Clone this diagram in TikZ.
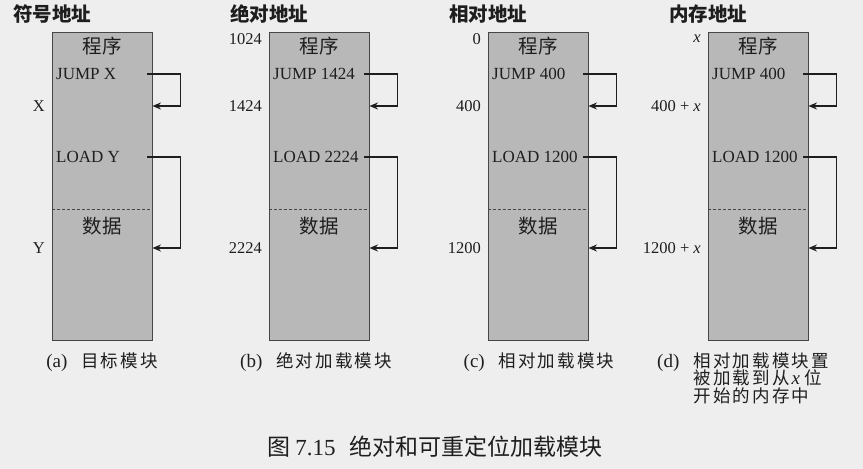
\documentclass[tikz,border=0pt]{standalone}
\usepackage{fontspec}
\setmainfont{Liberation Serif}
\newfontfamily\cjk{Noto Sans CJK SC}
\newfontfamily\cjkcap[LetterSpace=12]{Noto Sans CJK SC}
\newcommand\capcjk[1]{{\cjkcap\fontsize{17.5}{18}\selectfont #1}}
\usetikzlibrary{arrows.meta}
\definecolor{bgcol}{RGB}{238,238,238}
\definecolor{boxgray}{RGB}{184,184,184}
\definecolor{edgegray}{RGB}{70,70,70}
\definecolor{inkcol}{RGB}{30,30,30}
\tikzset{
  boxnode/.style={draw=edgegray, line width=0.9pt, fill=boxgray, minimum width=100pt, minimum height=308pt, inner sep=0pt},
  ttl/.style={inner sep=0pt, anchor=west, text=inkcol, font=\cjk\bfseries\fontsize{19.5}{22}\selectfont},
  inbox/.style={inner sep=0pt, text=inkcol, font=\cjk\fontsize{19.5}{22}\selectfont},
  instr/.style={inner sep=0pt, anchor=west, text=inkcol, font=\fontsize{17}{20}\selectfont},
  addr/.style={inner sep=0pt, anchor=east, text=inkcol, font=\fontsize{16.5}{20}\selectfont},
  capt/.style={inner sep=0pt, text=inkcol, font=\fontsize{19}{20}\selectfont},
  arr/.style={draw=inkcol, line width=1.6pt, -{Stealth[length=8.5pt,width=7pt]}},
  divider/.style={draw=edgegray, line width=0.9pt, dash pattern=on 3pt off 2pt}
}
% #1 name, #2 left x, #3 title, #4 top label, #5 jump text, #6 load text, #7 jump addr, #8 load addr
\newcommand\mypanel[8]{%
  \node[boxnode] (#1box) at (#2+50,186) {};
  \node[ttl] (#1ttl) at (#2-39,14) {#3};
  \node[inbox] (#1prog) at (#2+50,46) {程序};
  \node[instr] (#1jump) at (#2+4,74) {#5};
  \node[instr] (#1load) at (#2+4,157) {#6};
  \draw[divider] (#1box.west |- 0,209) -- (#1box.east |- 0,209);
  \node[inbox] (#1data) at (#2+50,226) {数据};
  \node[addr] (#1a0) at (#2-7,39) {#4};
  \node[addr] (#1a1) at (#2-7,106) {#7};
  \node[addr] (#1a2) at (#2-7,248) {#8};
  \coordinate (#1s) at ([xshift=-5pt]#1box.east);
  \coordinate (#1c) at ([xshift=28pt]#1box.east);
  \draw[arr] (#1s |- #1jump) -| (#1c |- #1a1) -- (#1box.east |- #1a1);
  \draw[arr] (#1s |- #1load) -| (#1c |- #1a2) -- (#1box.east |- #1a2);
}
\begin{document}
\begin{tikzpicture}[x=1pt,y=-1pt]
  \fill[bgcol] (0,0) rectangle (863,469);
  \useasboundingbox (0,0) rectangle (863,469);

  \mypanel{a}{52}{符号地址}{}{JUMP X}{LOAD Y}{X}{Y}
  \mypanel{b}{269}{绝对地址}{1024}{JUMP 1424}{LOAD 2224}{1424}{2224}
  \mypanel{c}{488}{相对地址}{0}{JUMP 400}{LOAD 1200}{400}{1200}
  \mypanel{d}{708}{内存地址}{\textit{x}}{JUMP 400}{LOAD 1200}{400 + \textit{x}}{1200 + \textit{x}}

  \node[capt] (acap) at (102,362) {(a)\hspace{14pt}\capcjk{目标模块}};
  \node[capt] (bcap) at (316,362) {(b)\hspace{14pt}\capcjk{绝对加载模块}};
  \node[capt] (ccap) at (539,362) {(c)\hspace{14pt}\capcjk{相对加载模块}};
  \node[capt, anchor=base west] (dtag) at (657,367) {(d)};
  \node[capt, anchor=base west] (dcap1) at ([xshift=14pt]dtag.base east) {\capcjk{相对加载模块置}};
  \node[capt, anchor=base west] (dcap2) at (dcap1.base west |- 0,384.5) {\capcjk{被加载到从}\hspace{2pt}\textit{x}\hspace{4pt}\capcjk{位}};
  \node[capt, anchor=base west] (dcap3) at (dcap1.base west |- 0,402) {\capcjk{开始的内存中}};

  \node[inner sep=0pt, text=inkcol, font=\fontsize{23}{26}\selectfont] (figcap) at (435,447)
    {{\cjk 图}\hspace{5pt}7.15\hspace{14pt}{\cjk 绝对和可重定位加载模块}};
\end{tikzpicture}
\end{document}
